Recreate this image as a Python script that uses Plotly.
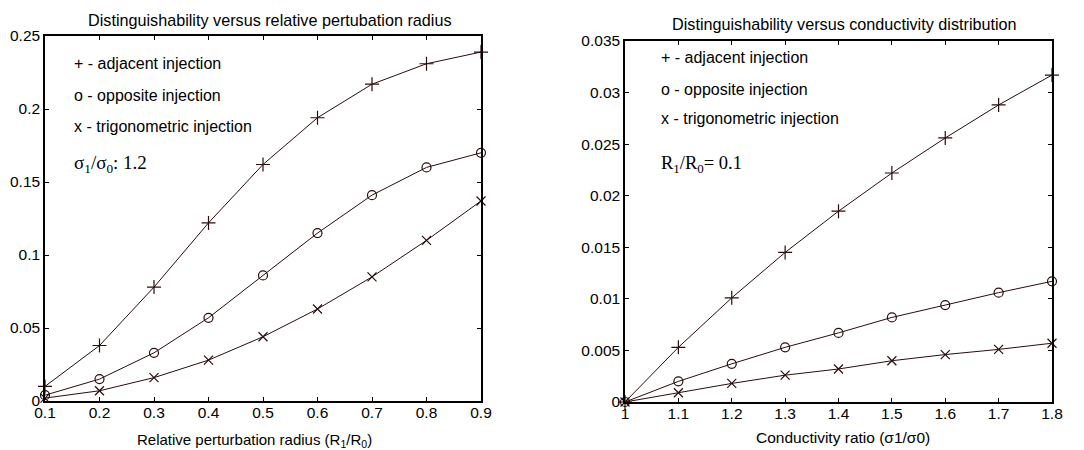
import plotly.graph_objects as go

# ---- data ----
radius = [0.1, 0.2, 0.3, 0.4, 0.5, 0.6, 0.7, 0.8, 0.9]
rad_adjacent = [0.010, 0.038, 0.078, 0.122, 0.162, 0.194, 0.217, 0.231, 0.239]
rad_opposite = [0.004, 0.015, 0.033, 0.057, 0.086, 0.115, 0.141, 0.160, 0.170]
rad_trig = [0.002, 0.007, 0.016, 0.028, 0.044, 0.063, 0.085, 0.110, 0.137]

cond_ratio = [1.0, 1.1, 1.2, 1.3, 1.4, 1.5, 1.6, 1.7, 1.8]
cond_adjacent = [0.0, 0.0053, 0.0101, 0.0145, 0.0185, 0.0222, 0.0256, 0.0288, 0.0317]
cond_opposite = [0.0, 0.0020, 0.0037, 0.0053, 0.0067, 0.0082, 0.0094, 0.0106, 0.0117]
cond_trig = [0.0, 0.0009, 0.0018, 0.0026, 0.0032, 0.0040, 0.0046, 0.0051, 0.0057]

legend_labels = ["+ - adjacent injection", "o - opposite injection", "x - trigonometric injection"]

LINE = "#2a0d0d"
FONT = "Liberation Sans"
SERIF = "Liberation Serif"

fig = go.Figure()

series = [
    (radius, rad_adjacent, "cross-thin", 10, "x", "y"),
    (radius, rad_opposite, "circle-open", 9, "x", "y"),
    (radius, rad_trig, "x-thin", 9, "x", "y"),
    (cond_ratio, cond_adjacent, "cross-thin", 10, "x2", "y2"),
    (cond_ratio, cond_opposite, "circle-open", 9, "x2", "y2"),
    (cond_ratio, cond_trig, "x-thin", 9, "x2", "y2"),
]
for xs, ys, sym, sz, xa, ya in series:
    fig.add_trace(go.Scatter(
        x=xs, y=ys, mode="lines+markers", xaxis=xa, yaxis=ya,
        line=dict(color=LINE, width=1),
        marker=dict(symbol=sym, size=sz, color=LINE, line=dict(color=LINE, width=1.2)),
        showlegend=False, cliponaxis=False,
    ))

axis_common = dict(
    showline=True, linecolor="black", linewidth=1.5, mirror="ticks",
    ticks="inside", ticklen=4, tickcolor="black", showgrid=False, zeroline=False,
    automargin=False,
    tickfont=dict(family=FONT, size=15.5, color="black"),
)

fig.update_layout(
    width=1084, height=450,
    margin=dict(l=0, r=0, t=0, b=0, autoexpand=False),
    paper_bgcolor="white", plot_bgcolor="white",
    xaxis=dict(domain=[45/1084, 481/1084], range=[0.1, 0.9], dtick=0.1, tick0=0.1, anchor="y",
               ticklabelstandoff=-3, **axis_common),
    yaxis=dict(domain=[1-401/450, 1-36/450], range=[0, 0.25], dtick=0.05, anchor="x",
               ticklabelstandoff=0, **axis_common),
    xaxis2=dict(domain=[625/1084, 1052/1084], range=[1, 1.8], dtick=0.1, tick0=1, anchor="y2",
                ticklabelstandoff=-3, **axis_common),
    yaxis2=dict(domain=[1-402/450, 1-41/450], range=[0, 0.035], dtick=0.005, anchor="x2",
                ticklabelstandoff=0, **axis_common),
)

ann = []


def add_text(text, x, y, size, family=FONT, xanchor="center"):
    ann.append(dict(text=text, x=x/1084, y=1-y/450, xref="paper", yref="paper",
                    xanchor=xanchor, yanchor="middle", showarrow=False,
                    font=dict(family=family, size=size, color="black")))


# titles
add_text("Distinguishability versus relative pertubation radius", 270, 20, 16.2)
add_text("Distinguishability versus conductivity distribution", 844, 24, 16.2)
# axis titles
add_text("Relative perturbation radius (R<sub>1</sub>/R<sub>0</sub>)", 254, 440, 15)
add_text("Conductivity ratio (σ1/σ0)", 843, 437, 15.5)
# legend texts
for i, (ly_left, ly_right) in enumerate(zip([63, 95, 126], [57, 89, 118])):
    add_text(legend_labels[i], 72, ly_left, 16, xanchor="left")
    add_text(legend_labels[i], 659, ly_right, 16, xanchor="left")
add_text("σ<sub>1</sub>/σ<sub>0</sub>: 1.2", 72, 164, 19, family=SERIF, xanchor="left")
add_text("R<sub>1</sub>/R<sub>0</sub>= 0.1", 659, 164, 18.5, family=SERIF, xanchor="left")
fig.update_layout(annotations=ann)

fig.write_html("out.html")
